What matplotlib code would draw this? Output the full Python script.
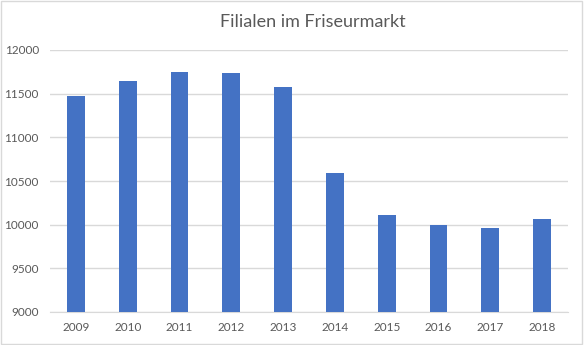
import matplotlib
matplotlib.use("Agg")
from matplotlib import pyplot as plt

#data
years = ["2009", "2010", "2011", "2012", "2013", "2014", "2015", "2016", "2017", "2018"]
stores = [11470, 11645, 11750, 11735, 11575, 10595, 10105, 10000, 9965, 10070]
y_ticks = [9000, 9500, 10000, 10500, 11000, 11500, 12000]

plt.rcParams['font.family'] = ['Lato', 'DejaVu Sans']

fig = plt.figure(figsize=(5.84, 3.45), dpi=100)
#light border round the whole chart
fig.patches.append(plt.Rectangle((0.002, 0.003), 0.995, 0.994, transform=fig.transFigure,
                                 fill=False, edgecolor="#D9D9D9", linewidth=1))

ax = fig.add_axes([50/584, 1 - 312/345, 518/584, 262/345])
x = list(range(len(years)))
ax.bar(x, stores, width=0.34, color="#4472C4", zorder=3)

ax.set_xlim(-0.5, len(years) - 0.5)
ax.set_ylim(9000, 12000)
ax.set_yticks(y_ticks)
ax.set_xticks(x)
ax.set_xticklabels(years)
ax.grid(axis="y", color="#D9D9D9", linewidth=1, zorder=0)

for side in ["top", "right", "left"]:
    ax.spines[side].set_visible(False)
ax.spines["bottom"].set_color("#D9D9D9")
ax.tick_params(axis="both", length=0, labelsize=8.5, colors="#595959")
ax.tick_params(axis="x", pad=7)
ax.tick_params(axis="y", pad=8)

#title sits over the middle of the plot area
fig.text(313/584, 1 - 22/345, "Filialen im Friseurmarkt", ha="center", va="center",
         fontsize=13, color="#595959")

fig.savefig("out.png", dpi=100)
